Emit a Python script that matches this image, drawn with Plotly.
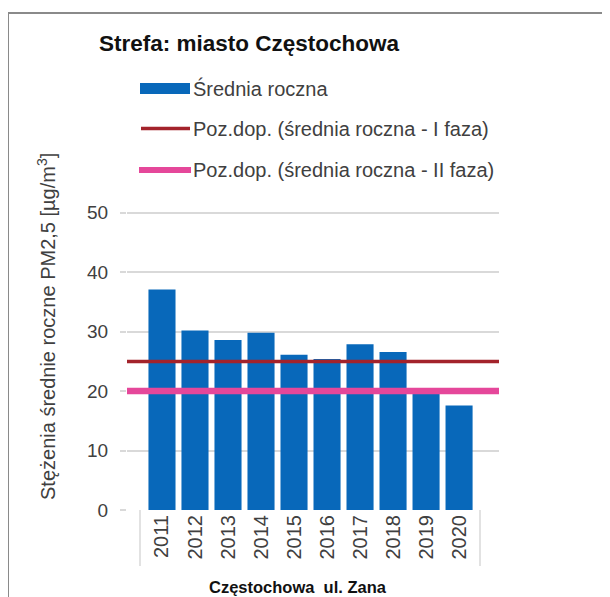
import plotly.graph_objects as go

years = ["2011", "2012", "2013", "2014", "2015", "2016", "2017", "2018", "2019", "2020"]
annual_mean = [37.1, 30.2, 28.6, 29.8, 26.1, 25.4, 27.9, 26.6, 19.8, 17.6]
limit_phase1 = 25
limit_phase2 = 20
series_names = ["Średnia roczna",
                "Poz.dop. (średnia roczna - I faza)",
                "Poz.dop. (średnia roczna - II faza)"]
title_text = "Strefa: miasto Częstochowa"
y_title = "Stężenia średnie roczne PM2,5 [µg/m<sup>3</sup>]"
x_title = "Częstochowa  ul. Zana"
y_ticks = [0, 10, 20, 30, 40, 50]

BLUE = "#0868BA"
RED = "#A3232B"
PINK = "#E5479A"
GRID = "#D9D9D9"
TXT = "#404040"
FONT = "Liberation Sans, Arial, sans-serif"

OFF = 8  # page body margin
W, H = 610 - OFF, 597 - OFF
L = 127 - OFF
T = 211 - OFF
R = W - (499 - OFF)
B = H - (510 - OFF)
PW, PH = W - L - R, H - T - B


def px(xp):
    return (xp - OFF - L) / PW


def py(yp):
    return (H - B - (yp - OFF)) / PH


fig = go.Figure()
fig.add_trace(go.Bar(x=years, y=annual_mean, name=series_names[0],
                     marker=dict(color=BLUE, line=dict(width=0)),
                     showlegend=False))
fig.add_trace(go.Scatter(x=[0, 1], y=[limit_phase1, limit_phase1], xaxis="x2",
                         mode="lines", name=series_names[1],
                         line=dict(color=RED, width=3.5), showlegend=False))
fig.add_trace(go.Scatter(x=[0, 1], y=[limit_phase2, limit_phase2], xaxis="x2",
                         mode="lines", name=series_names[2],
                         line=dict(color=PINK, width=6.5), showlegend=False))

shapes = []
# outer frame
shapes.append(dict(type="rect", xref="paper", yref="paper",
                   x0=px(8), x1=px(630), y0=py(620), y1=py(13),
                   line=dict(color="#8A8A8A", width=2), fillcolor="rgba(0,0,0,0)"))
# category axis dividers
for xp in (140, 480):
    shapes.append(dict(type="line", xref="paper", yref="paper",
                       x0=px(xp), x1=px(xp), y0=0, y1=py(566),
                       line=dict(color=GRID, width=1.5)))
# manual legend swatches
shapes.append(dict(type="rect", xref="paper", yref="paper",
                   x0=px(140), x1=px(190), y0=py(94), y1=py(83),
                   line=dict(width=0), fillcolor=BLUE))
shapes.append(dict(type="line", xref="paper", yref="paper",
                   x0=px(141), x1=px(190), y0=py(128.5), y1=py(128.5),
                   line=dict(color=RED, width=3.5)))
shapes.append(dict(type="line", xref="paper", yref="paper",
                   x0=px(139), x1=px(191), y0=py(170), y1=py(170),
                   line=dict(color=PINK, width=6)))

annotations = []
for name, yc in zip(series_names, (88, 128.5, 170)):
    annotations.append(dict(text=name, xref="paper", yref="paper",
                            x=px(191), y=py(yc), xanchor="left", yanchor="middle",
                            showarrow=False, font=dict(family=FONT, size=20, color=TXT)))
annotations.append(dict(text=y_title, xref="paper", yref="paper",
                        x=px(46), y=py(327), textangle=-90,
                        xanchor="center", yanchor="middle", showarrow=False,
                        font=dict(family=FONT, size=20, color=TXT)))
annotations.append(dict(text="<b>" + x_title + "</b>", xref="paper", yref="paper",
                        x=px(298), y=py(587), xanchor="center", yanchor="middle",
                        showarrow=False, font=dict(family=FONT, size=16.5, color="#111111")))

fig.update_layout(
    width=W, height=H,
    margin=dict(l=L, r=R, t=T, b=B, pad=0),
    paper_bgcolor="white", plot_bgcolor="white",
    title=dict(text="<b>" + title_text + "</b>", x=(249 - OFF) / W, xanchor="center",
               y=1 - (43 - OFF) / H, yanchor="middle", yref="container",
               font=dict(family=FONT, size=22.5, color="#111111")),
    bargap=0.18,
    shapes=shapes, annotations=annotations,
    xaxis=dict(type="category", range=[-1.06, 10.21], showgrid=False,
               tickangle=-90, ticks="", showline=False, zeroline=False,
               tickfont=dict(family=FONT, size=20, color=TXT)),
    xaxis2=dict(overlaying="x", range=[0, 1], visible=False),
    yaxis=dict(range=[0, 50.3], tickvals=y_ticks, showgrid=True, gridcolor=GRID,
               gridwidth=1.5, zeroline=False, showline=False,
               ticks="outside", ticklen=6, tickcolor=GRID, tickwidth=1.5,
               ticklabelstandoff=8,
               tickfont=dict(family=FONT, size=19, color=TXT)),
    showlegend=False,
    font=dict(family=FONT, color=TXT),
)

fig.write_html("out.html")
